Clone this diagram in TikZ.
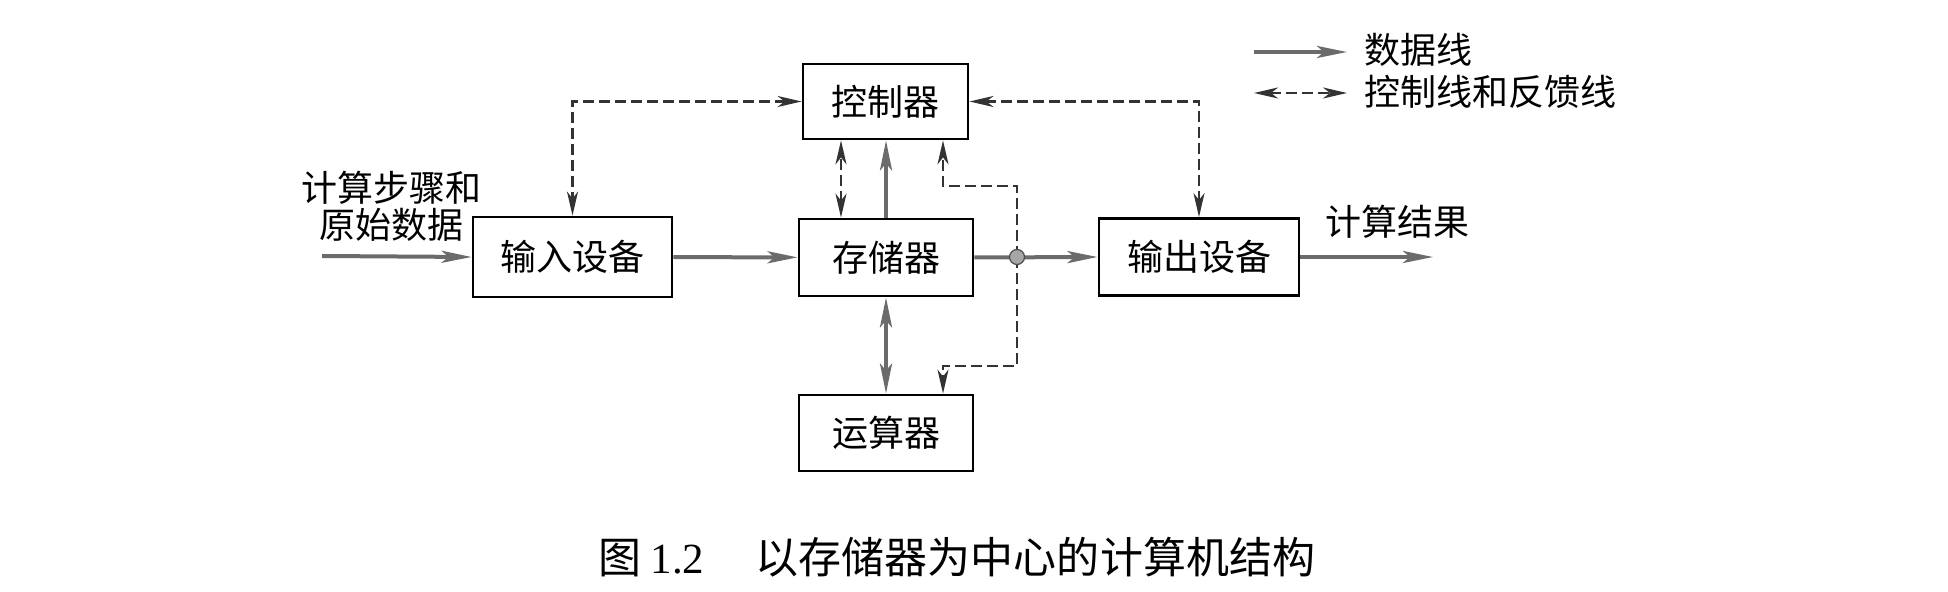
\documentclass[tikz,border=0pt]{standalone}
\usepackage{fontspec}
\setmainfont{Liberation Serif}
\newfontfamily\cjk{Noto Sans CJK SC}
\usetikzlibrary{positioning,arrows.meta}

\definecolor{datgray}{gray}{0.42}
\definecolor{ctlgray}{gray}{0.2}

\tikzset{
  unit/.style={draw, line width=1.4pt, inner sep=0pt, font=\cjk\fontsize{18pt}{18pt}\selectfont},
  lbl/.style={inner sep=0pt, font=\cjk\fontsize{18pt}{18.5pt}\selectfont},
  dat/.style={line width=2pt, draw=datgray, >={Stealth[length=15pt,width=6pt,inset=3.5pt]}},
  ctl/.style={line width=1.25pt, draw=ctlgray, dash pattern=on 5.5pt off 2.5pt, >={Stealth[length=12pt,width=5.5pt,inset=3.5pt]}},
  jdot/.style={circle, fill=gray!70, draw=black!70, line width=0.6pt, minimum size=7.5pt, inner sep=0pt}
}

\begin{document}
\begin{tikzpicture}[x=0.5pt,y=-0.5pt]
    \useasboundingbox (0,0) rectangle (1948,592);
    % units
    \node[unit, minimum width=82.5pt, minimum height=37.5pt] (ctrl) at (885.5,101.5) {控制器};
    \node[unit, minimum width=87pt, minimum height=38.5pt] (mem) at (886,257.5) {存储器};
    \node[unit, minimum width=87pt, minimum height=38pt] (alu) at (886,433) {运算器};
    \node[unit, minimum width=99.5pt, minimum height=40pt] (input) at (572.5,257) {输入设备};
    \node[unit, minimum width=100pt, minimum height=38.5pt] (output) at (1199,257) {输出设备};
    \node[lbl, align=center] (srclbl) at (391,206) {计算步骤和\\原始数据};
    \node[lbl] (dstlbl) at (1397,222) {计算结果};

    \coordinate (src) at (322,256);
    \coordinate (dst) at (1433,257);
    \coordinate (jn) at (1017,257);
    \coordinate (fbup) at (1017,186);
    \coordinate (fbdn) at (1017,366);

    % data lines
    \draw[dat,->] (src) -- (input.west);
    \draw[dat,->] (input) -- (mem);
    \draw[dat,->] (mem.east) -- (output.west);
    \draw[dat,->] (output.east) -- (dst);
    \draw[dat,->] (mem.north) -- (mem.north |- ctrl.south);
    \draw[dat,<->] (mem.south) -- (alu.north);

    % control and feedback lines
    \draw[ctl,<->] (ctrl.west) -| (input.north);
    \draw[ctl,<->] (ctrl.east) -| (output.north);
    \draw[ctl,<->] ([xshift=-22.5pt]mem.north) -- ([xshift=-22.5pt]mem.north |- ctrl.south);
    \draw[ctl,->] (jn) -- (fbup) -| ([xshift=28.75pt]ctrl.south);
    \draw[ctl,->] (jn) -- (fbdn) -| ([xshift=28.5pt]alu.north);
    \node[jdot] (jndot) at (jn) {};

    % legend
    \coordinate (lg1a) at (1254,52);
    \coordinate (lg1b) at (1347,52);
    \coordinate (lg2a) at (1254,93);
    \coordinate (lg2b) at (1347,93);
    \draw[dat,->] (lg1a) -- (lg1b);
    \draw[ctl,<->] (lg2a) -- (lg2b);
    \node[lbl, anchor=west] (lgdat) at (1364,50) {数据线};
    \node[lbl, anchor=west] (lgctl) at (1364,92) {控制线和反馈线};

    % caption
    \node[font=\fontsize{21.5pt}{21.5pt}\selectfont] (cap) at (956.5,557) {\cjk 图 \rmfamily 1.2\hspace{1.2em}\cjk 以存储器为中心的计算机结构};
\end{tikzpicture}
\end{document}
